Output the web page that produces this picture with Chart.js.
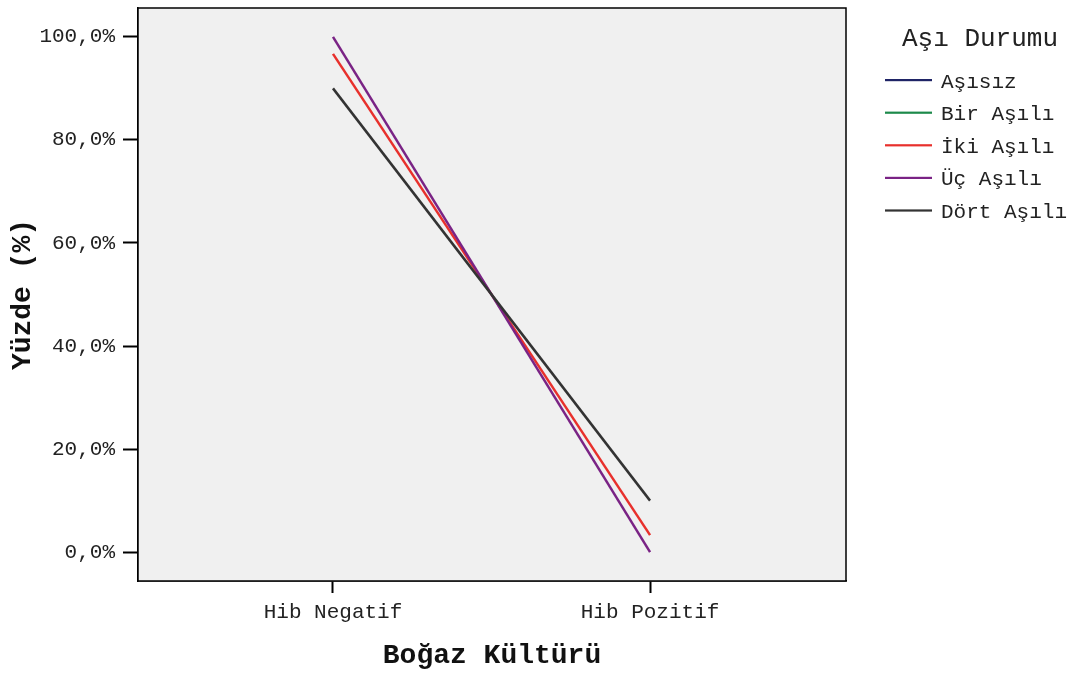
<!DOCTYPE html>
<html>
<head>
<meta charset="utf-8">
<script src="https://cdn.jsdelivr.net/npm/chart.js@4/dist/chart.umd.min.js"></script>
<style>
html,body{margin:0;padding:0;background:#fff;}
#wrap{width:1077px;height:673px;position:relative;}
</style>
</head>
<body>
<div id="wrap"><canvas id="c" width="1077" height="673"></canvas></div>
<script>
const categories = ["Hib Negatif", "Hib Pozitif"];
const seriesNames = ["Aşısız", "Bir Aşılı", "İki Aşılı", "Üç Aşılı", "Dört Aşılı"];
const asisiz = [null, null];
const birAsili = [null, null];
const ikiAsili = [96.7, 3.3];
const ucAsili = [100.0, 0.0];
const dortAsili = [90.0, 10.0];
const yTicks = [0, 20, 40, 60, 80, 100];
const legendTitle = "Aşı Durumu";
const xTitle = "Boğaz Kültürü";
const yTitle = "Yüzde (%)";

const colors = ["#1f2466", "#1d8a4b", "#e8302c", "#7a2385", "#333333"];
const seriesValues = [asisiz, birAsili, ikiAsili, ucAsili, dortAsili];
const FONT = "'Liberation Mono', 'Courier New', monospace";

const datasets = seriesNames.map((name, i) => ({
  label: name,
  data: seriesValues[i].map((v, j) => ({x: j, y: v})),
  borderColor: colors[i],
  backgroundColor: colors[i],
  borderWidth: 2.5,
  pointRadius: 0,
  fill: false,
  tension: 0,
  order: seriesNames.length - i
}));

const framePlugin = {
  id: 'frame',
  beforeDatasetsDraw(chart) {
    const {ctx, chartArea: a} = chart;
    ctx.save();
    ctx.fillStyle = '#f0f0f0';
    ctx.fillRect(a.left, a.top, a.right - a.left, a.bottom - a.top);
    ctx.restore();
  },
  afterDatasetsDraw(chart) {
    const {ctx, chartArea: a} = chart;
    ctx.save();
    ctx.strokeStyle = '#000';
    ctx.lineWidth = 1.5;
    ctx.strokeRect(a.left, a.top, a.right - a.left, a.bottom - a.top);
    ctx.restore();
  },
  afterDraw(chart) {
    const {ctx} = chart;
    ctx.save();
    ctx.fillStyle = '#222';
    ctx.textBaseline = 'middle';
    ctx.textAlign = 'center';
    ctx.font = "26px " + FONT;
    ctx.fillText(legendTitle, 980, 39);
    ctx.textAlign = 'left';
    ctx.font = "21px " + FONT;
    chart.data.datasets.forEach((ds, i) => {
      const y = 80 + i * 32.6;
      ctx.fillStyle = ds.borderColor;
      ctx.fillRect(885, y - 1, 47, 2.2);
      ctx.fillStyle = '#222';
      ctx.fillText(ds.label, 941, y + 2);
    });
    ctx.restore();
  }
};

new Chart(document.getElementById('c'), {
  type: 'line',
  data: { datasets },
  options: {
    responsive: false,
    animation: false,
    layout: { padding: { left: 0, right: 231, top: 8, bottom: 0 } },
    plugins: { legend: { display: false }, tooltip: { enabled: false } },
    scales: {
      x: {
        type: 'linear',
        min: -0.615,
        max: 1.618,
        afterBuildTicks(s) { s.ticks = categories.map((c, i) => ({value: i})); },
        afterFit(s) { s.height = 92; s.paddingLeft = 0; s.paddingRight = 0; },
        ticks: {
          callback: (v) => categories[v],
          color: '#222',
          font: { family: FONT, size: 21 },
          padding: 7,
          maxRotation: 0,
          autoSkip: false
        },
        grid: { display: true, drawOnChartArea: false, drawTicks: true, tickLength: 12, color: '#000', tickWidth: 2 },
        border: { display: true, color: '#000', width: 1.5 },
        title: { display: true, text: xTitle, color: '#111', font: { family: FONT, size: 28, weight: 'bold' }, padding: { top: 0, bottom: 0 } }
      },
      y: {
        type: 'linear',
        min: -5.6,
        max: 105.6,
        afterBuildTicks(s) { s.ticks = yTicks.map(v => ({value: v})); },
        afterFit(s) { s.width = 138; s.paddingTop = 0; s.paddingBottom = 0; },
        ticks: {
          callback: (v) => v.toFixed(1).replace('.', ',') + '%',
          color: '#222',
          font: { family: FONT, size: 21 },
          padding: 8
        },
        grid: { display: true, drawOnChartArea: false, drawTicks: true, tickLength: 15, color: '#000', tickWidth: 2 },
        border: { display: true, color: '#000', width: 1.5 },
        title: { display: true, text: yTitle, color: '#111', font: { family: FONT, size: 28, weight: 'bold' }, padding: { top: 6, bottom: 0 } }
      }
    }
  },
  plugins: [framePlugin]
});
</script>
</body>
</html>
